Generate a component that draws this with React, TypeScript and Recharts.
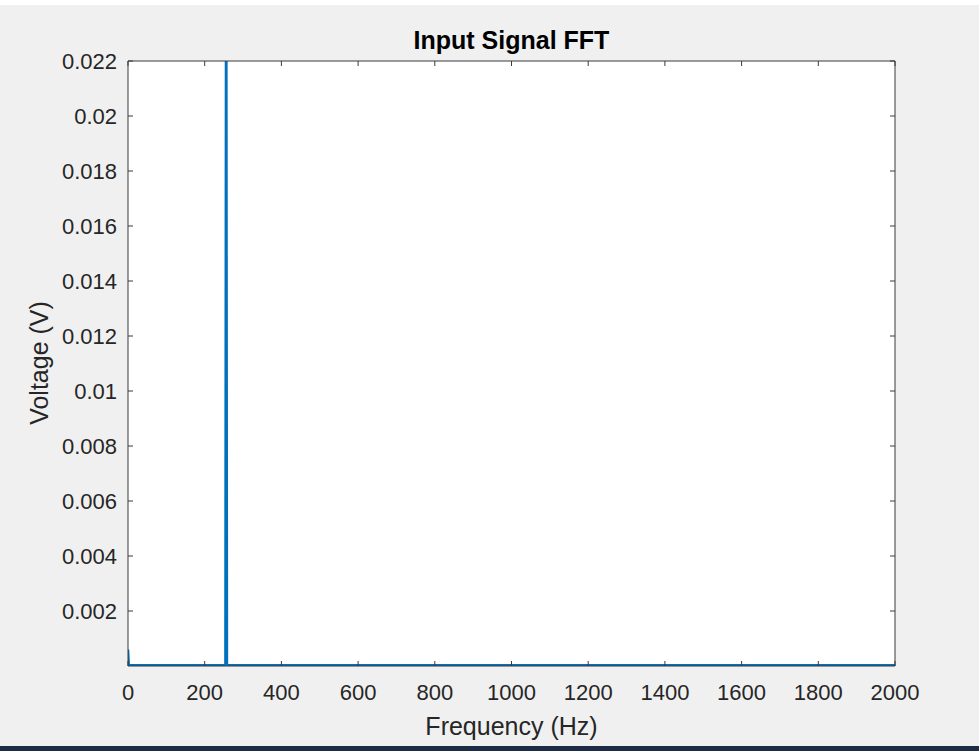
import React from 'react';
import { LineChart, Line, XAxis, YAxis, CartesianGrid } from 'recharts';

// FFT magnitude (peak is clipped at the top of the axes)
const freqHz = [0, 2, 4, 120, 250, 254, 256, 258, 262, 500, 1000, 1500, 2000];
const voltage = [0.0006, 0.00004, 0.00003, 0.00003, 0.00003, 0.00005, 0.03, 0.00005, 0.00003, 0.00003, 0.00003, 0.00003, 0.00003];

const xTicks = [0, 200, 400, 600, 800, 1000, 1200, 1400, 1600, 1800, 2000];
const yTicks = [0.002, 0.004, 0.006, 0.008, 0.01, 0.012, 0.014, 0.016, 0.018, 0.02, 0.022];

const data = freqHz.map((f, i) => ({ f, v: voltage[i] }));

const FONT = '"Liberation Sans", Arial, Helvetica, sans-serif';
const AXIS = '#3a3a3a';
const TEXT = '#262626';

const noLabel = () => <g />;

export default function App() {
  return (
    <div style={{ position: 'absolute', left: 0, top: 0, width: 979, height: 751, background: '#f0f0f0', fontFamily: FONT, overflow: 'hidden' }}>
      <div style={{ position: 'absolute', left: 0, top: 0, width: 979, height: 5, background: '#ffffff' }} />

      <LineChart width={979} height={751} data={data} margin={{ top: 60, right: 83, bottom: 55, left: 68 }}>
        <CartesianGrid horizontal={false} vertical={false} fill="#ffffff" />
        <XAxis
          xAxisId="bottom"
          dataKey="f"
          type="number"
          domain={[0, 2000]}
          ticks={xTicks}
          height={30}
          tickSize={-5}
          tickMargin={23}
          stroke={AXIS}
          tick={{ fill: TEXT, fontSize: 22, fontFamily: FONT }}
          allowDataOverflow
        />
        <XAxis
          xAxisId="top"
          orientation="top"
          dataKey="f"
          type="number"
          domain={[0, 2000]}
          ticks={xTicks}
          height={1}
          tickSize={-5}
          stroke={AXIS}
          tick={noLabel}
          allowDataOverflow
        />
        <YAxis
          yAxisId="left"
          type="number"
          domain={[0, 0.022]}
          ticks={yTicks}
          width={60}
          tickSize={-5}
          tickMargin={16}
          stroke={AXIS}
          tick={{ fill: TEXT, fontSize: 22, fontFamily: FONT }}
          tickFormatter={(v: number) => String(v)}
          allowDataOverflow
        />
        <YAxis
          yAxisId="right"
          orientation="right"
          type="number"
          domain={[0, 0.022]}
          ticks={yTicks}
          width={1}
          tickSize={-5}
          stroke={AXIS}
          tick={noLabel}
          allowDataOverflow
        />
        <Line
          xAxisId="bottom"
          yAxisId="left"
          type="linear"
          dataKey="v"
          stroke="#0072BD"
          strokeWidth={2.5}
          dot={false}
          isAnimationActive={false}
        />
      </LineChart>

      <div style={{ position: 'absolute', left: 511.5, top: 40, transform: 'translate(-50%, -50%)', fontSize: 25, fontWeight: 'bold', lineHeight: 1, color: '#000', whiteSpace: 'nowrap' }}>
        Input Signal FFT
      </div>
      <div style={{ position: 'absolute', left: 511.5, top: 726, transform: 'translate(-50%, -50%)', fontSize: 25, lineHeight: 1, color: TEXT, whiteSpace: 'nowrap' }}>
        Frequency (Hz)
      </div>
      <div style={{ position: 'absolute', left: 39, top: 363, transform: 'translate(-50%, -50%) rotate(-90deg)', fontSize: 25, lineHeight: 1, color: TEXT, whiteSpace: 'nowrap' }}>
        Voltage (V)
      </div>

      <div style={{ position: 'absolute', left: 0, top: 746, width: 979, height: 5, background: '#1d2b45' }} />
    </div>
  );
}
